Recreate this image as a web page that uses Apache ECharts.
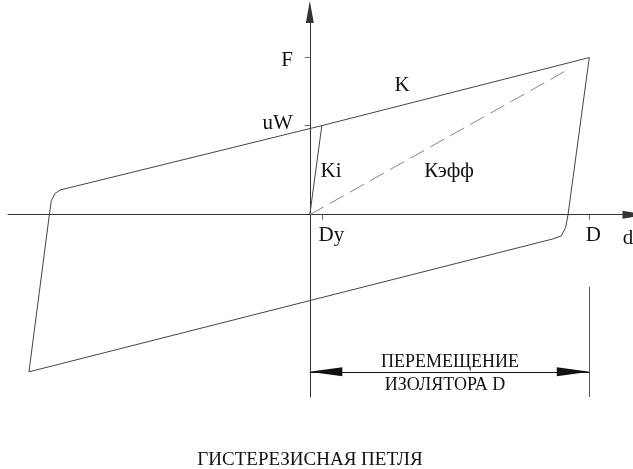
<!DOCTYPE html>
<html>
<head>
<meta charset="utf-8">
<script src="https://cdn.jsdelivr.net/npm/echarts@6/dist/echarts.min.js"></script>
<style>
  html, body { margin: 0; padding: 0; background: #fff; }
  #chart { width: 633px; height: 469px; }
</style>
</head>
<body>
<div id="chart"></div>
<script>
// d - смещение, F - усилие (в долях от D и F)
const initialLoading = [[0, 0], [0.043, 0.567]]
const hysteresisLoop = [
  [-0.894, 0.157], [0.043, 0.567], [1, 1],
  [0.924, 0], [0.915, -0.083], [0.9, -0.134], [0.87, -0.154],
  [-1.005, -1],
  [-0.932, 0], [-0.925, 0.09], [-0.912, 0.135], [-0.894, 0.157]
]
const effectiveLine = [[0, 0], [0.92, 0.92]]
const yTickValues = [1, 0.567]
const yTickLabels = ['F', 'uW']
const xTickValues = [0.043, 1]
const xTickLabels = ['Dy', 'D']
const dimensionLevel = -1
const dimensionFrom = 0
const dimensionTo = 1
const extensionTop = -0.459

const xMin = -1.08, xMax = 1.16
const yMin = -1.16, yMax = 1.29
const grid = { left: 8, width: 626, top: 12, height: 385 }

const serif = '"Liberation Serif", "DejaVu Serif", serif'
const lineColor = '#444'
const textColor = '#111'

const labelFor = (values, labels) => v => {
  const i = values.findIndex(x => Math.abs(x - v) < 1e-9)
  return i < 0 ? '' : labels[i]
}

// оси проходят через ноль, подписи тоже
const yAxisOffset = -(0 - xMin) / (xMax - xMin) * grid.width
const xAxisOffset = -(0 - yMin) / (yMax - yMin) * grid.height

const text = (x, y, str, size) => ({
  type: 'text', x, y,
  style: { text: str, font: size + 'px ' + serif, fill: textColor, align: 'center', verticalAlign: 'middle' }
})

const chart = echarts.init(document.getElementById('chart'))

chart.setOption({
  backgroundColor: '#fff',
  animation: false,
  grid: Object.assign({ outerBoundsMode: 'none', containLabel: false }, grid),
  xAxis: {
    type: 'value',
    min: xMin,
    max: xMax,
    position: 'bottom',
    offset: xAxisOffset,
    splitLine: { show: false },
    axisLine: {
      onZero: false,
      symbol: ['none', 'triangle'],
      symbolSize: [8, 23],
      lineStyle: { color: '#333', width: 1 }
    },
    axisTick: { customValues: xTickValues, length: 5, lineStyle: { color: '#666' } },
    axisLabel: {
      customValues: xTickValues,
      formatter: v => {
        const t = labelFor(xTickValues, xTickLabels)(v)
        return t === 'Dy' ? '{dy|Dy}' : '{d|' + t + '}'
      },
      align: 'center',
      margin: 10,
      rich: {
        dy: { fontFamily: serif, fontSize: 21, color: textColor, padding: [0, 0, 0, 19] },
        d: { fontFamily: serif, fontSize: 21, color: textColor, padding: [0, 0, 0, 8] }
      }
    }
  },
  yAxis: {
    type: 'value',
    min: yMin,
    max: yMax,
    position: 'left',
    offset: yAxisOffset,
    splitLine: { show: false },
    axisLine: {
      onZero: false,
      symbol: ['none', 'triangle'],
      symbolSize: [8, 22],
      lineStyle: { color: '#333', width: 1 }
    },
    axisTick: { customValues: yTickValues, length: 5, lineStyle: { color: '#666' } },
    axisLabel: {
      customValues: yTickValues,
      formatter: v => {
        const t = labelFor(yTickValues, yTickLabels)(v)
        return t === 'F' ? '{f|F}' : '{u|' + t + '}'
      },
      margin: 17,
      rich: {
        f: { fontFamily: serif, fontSize: 21, color: textColor, padding: [6, 0, 0, 0] },
        u: { fontFamily: serif, fontSize: 21, color: textColor, padding: [0, 0, 5, 0] }
      }
    }
  },
  series: [
    {
      type: 'line',
      data: hysteresisLoop,
      symbol: 'none',
      lineStyle: { color: lineColor, width: 1 },
      markLine: {
        silent: true,
        symbol: ['triangle', 'triangle'],
        symbolSize: [9, 33],
        symbolOffset: [[0, 16], [0, 16]],
        label: { show: false },
        lineStyle: { color: '#111', width: 1, type: 'solid' },
        data: [
          [{ coord: [dimensionFrom, dimensionLevel] }, { coord: [dimensionTo, dimensionLevel] }]
        ]
      }
    },
    {
      type: 'line',
      data: initialLoading,
      symbol: 'none',
      lineStyle: { color: lineColor, width: 1 },
      markLine: {
        silent: true,
        symbol: ['none', 'none'],
        label: { show: false },
        lineStyle: { color: '#555', width: 1, type: 'solid' },
        data: [
          [{ coord: [dimensionTo, extensionTop] }, { coord: [dimensionTo, yMin] }]
        ]
      }
    },
    {
      type: 'line',
      data: effectiveLine,
      symbol: 'none',
      lineStyle: { color: '#888', width: 1, type: [16, 7] }
    }
  ],
  graphic: [
    text(402, 85, 'K', 21),
    text(331, 171, 'Ki', 21),
    text(449, 171, 'Кэфф', 21),
    text(628, 238, 'd', 21),
    text(450, 362, 'ПЕРЕМЕЩЕНИЕ', 18),
    text(445, 385, 'ИЗОЛЯТОРА D', 18),
    text(310, 460, 'ГИСТЕРЕЗИСНАЯ ПЕТЛЯ', 19)
  ]
})
</script>
</body>
</html>
